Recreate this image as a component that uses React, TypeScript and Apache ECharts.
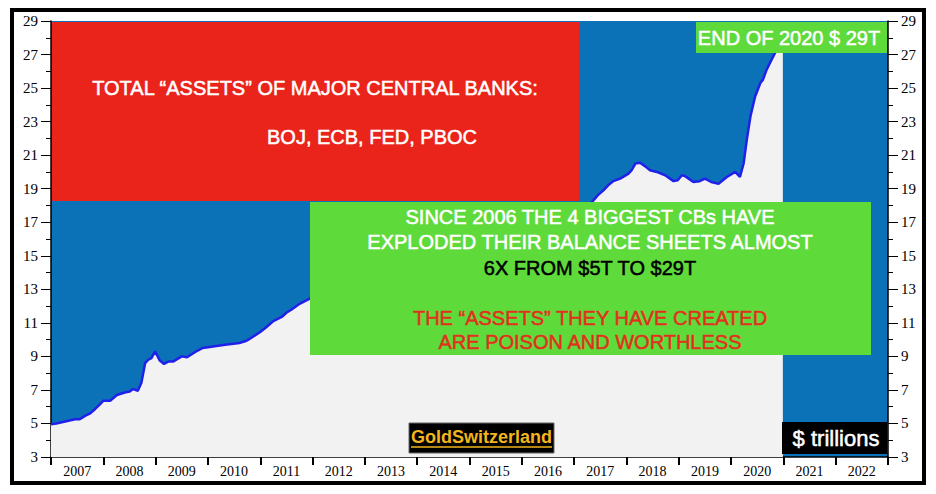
import React, { useEffect, useRef } from 'react';
import * as echarts from 'echarts';

// X axis categories (one band per year)
const yearLabels = ['2007', '2008', '2009', '2010', '2011', '2012', '2013', '2014', '2015', '2016', '2017', '2018', '2019', '2020', '2021', '2022'];

// Y axis range ($ trillions)
const yMin = 3;
const yMax = 29;
const yStep = 2;

// Time (decimal year) and total assets ($ trillions)
const dates = [
  2007.0, 2007.1, 2007.25, 2007.46, 2007.55, 2007.65, 2007.75, 2007.84, 2007.92,
  2008.0, 2008.13, 2008.26, 2008.41, 2008.5, 2008.57, 2008.66, 2008.73, 2008.8, 2008.86, 2008.92, 2008.99,
  2009.08, 2009.16, 2009.25, 2009.34, 2009.5, 2009.6, 2009.75, 2009.9,
  2010.0, 2010.33, 2010.49, 2010.6, 2010.71, 2010.8, 2010.9,
  2011.0, 2011.12, 2011.25, 2011.41, 2011.5, 2011.6, 2011.76, 2011.92,
  2012.1, 2012.3, 2012.5, 2012.75, 2013.0, 2013.25, 2013.5, 2013.75,
  2014.0, 2014.25, 2014.5, 2014.75, 2015.0, 2015.25, 2015.5, 2015.75,
  2016.0, 2016.25, 2016.5, 2016.75, 2017.0, 2017.2, 2017.34,
  2017.45, 2017.56, 2017.65, 2017.75, 2017.88,
  2018.04, 2018.1, 2018.17, 2018.26, 2018.36, 2018.45, 2018.58, 2018.74, 2018.9, 2018.98,
  2019.06, 2019.12, 2019.28, 2019.4, 2019.5, 2019.62, 2019.76, 2019.92,
  2020.08, 2020.17, 2020.24, 2020.3, 2020.37, 2020.46, 2020.56, 2020.61, 2020.68, 2020.76, 2020.84, 2020.92, 2020.99,
];
const assets = [
  4.95, 5.0, 5.1, 5.25, 5.25, 5.45, 5.6, 5.85, 6.1,
  6.35, 6.35, 6.7, 6.85, 6.9, 7.05, 6.95, 7.45, 8.6, 8.8, 8.9, 9.3,
  8.75, 8.55, 8.7, 8.7, 9.0, 8.95, 9.25, 9.5,
  9.55, 9.7, 9.75, 9.8, 9.9, 10.05, 10.25,
  10.45, 10.75, 11.1, 11.35, 11.6, 11.8, 12.15, 12.4,
  12.8, 13.1, 13.4, 14.0, 14.4, 14.8, 15.3, 15.7,
  16.0, 16.2, 16.3, 15.9, 15.6, 15.5, 15.8, 15.7,
  15.9, 16.5, 17.0, 17.1, 17.4, 17.9, 18.2,
  18.6, 18.9, 19.2, 19.45, 19.6,
  19.9, 20.1, 20.5, 20.55, 20.33, 20.1, 20.0, 19.8, 19.45, 19.5,
  19.8, 19.75, 19.4, 19.45, 19.6, 19.4, 19.3, 19.7,
  20.0, 19.7, 20.5, 21.9, 23.3, 24.5, 25.3, 25.5, 26.1, 26.6, 27.1, 27.6, 28.2,
];

// Annotation texts
const redTitle = 'TOTAL “ASSETS” OF MAJOR CENTRAL BANKS:';
const redSubtitle = 'BOJ, ECB, FED, PBOC';
const greenLinesWhite = ['SINCE 2006 THE 4 BIGGEST CBs HAVE', 'EXPLODED THEIR BALANCE SHEETS ALMOST'];
const greenLineBlack = '6X FROM $5T TO $29T';
const greenLinesRed = ['THE “ASSETS” THEY HAVE CREATED', 'ARE POISON AND WORTHLESS'];
const endLabel = 'END OF 2020 $ 29T';
const unitLabel = '$ trillions';
const brandLabel = 'GoldSwitzerland';

const BLUE_BG = '#0b72b8';
const RED = '#ea241b';
const GREEN = '#5fda3b';
const SANS = "'Liberation Sans', Arial, Helvetica, sans-serif";
const SERIF = "'Liberation Serif', 'Times New Roman', serif";

export default function App() {
  const ref = useRef<HTMLDivElement>(null);

  useEffect(() => {
    if (!ref.current) return;
    const chart = echarts.init(ref.current, undefined, { renderer: 'svg' });

    const seriesData = dates.map((d, i) => [d, assets[i]]);

    const yAxisCommon = {
      type: 'value',
      min: yMin,
      max: yMax,
      interval: yStep,
      splitLine: { show: false },
      axisLine: { show: true, lineStyle: { color: '#000', width: 1.5 } },
      axisTick: { show: true, inside: false, length: 10, lineStyle: { color: '#000', width: 1 } },
      minorTick: { show: true, splitNumber: 2, length: 5, lineStyle: { color: '#000', width: 1 } },
      minorSplitLine: { show: false },
      axisLabel: { color: '#000', fontFamily: SERIF, fontSize: 15, margin: 13 },
    };

    const label = (text: string, x: number, y: number, fill: string, size: number) => ({
      type: 'text',
      x,
      y,
      z: 101,
      style: {
        text,
        fill,
        stroke: fill,
        lineWidth: 0.5,
        font: `${size}px ${SANS}`,
        align: 'center',
        verticalAlign: 'middle',
      },
    });

    chart.setOption({
      animation: false,
      backgroundColor: '#ffffff',
      grid: {
        left: 51,
        right: 48,
        top: 21,
        bottom: 37,
        show: true,
        backgroundColor: BLUE_BG,
        borderWidth: 0,
        containLabel: false,
      },
      xAxis: [
        {
          type: 'category',
          data: yearLabels,
          boundaryGap: true,
          axisLine: { show: true, lineStyle: { color: '#000', width: 1.5 } },
          axisTick: { show: true, inside: false, length: 8, alignWithLabel: false, lineStyle: { color: '#000', width: 2 } },
          axisLabel: { color: '#000', fontFamily: SERIF, fontSize: 14, margin: 7, interval: 0 },
          splitLine: { show: false },
        },
        {
          type: 'value',
          min: 2007,
          max: 2023,
          show: false,
          splitLine: { show: false },
        },
      ],
      yAxis: [
        { ...yAxisCommon, position: 'left' },
        { ...yAxisCommon, position: 'right' },
      ],
      series: [
        {
          type: 'line',
          xAxisIndex: 1,
          yAxisIndex: 0,
          data: seriesData,
          showSymbol: false,
          symbol: 'none',
          smooth: false,
          lineStyle: { color: '#2020ea', width: 2.5 },
          areaStyle: { color: '#f2f2f2', opacity: 1, origin: 'start' },
          z: 3,
        },
      ],
      graphic: [
        // red box
        { type: 'rect', z: 100, shape: { x: 52, y: 22, width: 527, height: 179 }, style: { fill: RED } },
        label(redTitle, 315, 88, '#ffffff', 20),
        label(redSubtitle, 372, 137, '#ffffff', 20),
        // green box
        { type: 'rect', z: 100, shape: { x: 310, y: 202, width: 561, height: 153 }, style: { fill: GREEN } },
        label(greenLinesWhite[0], 590, 217, '#ffffff', 20),
        label(greenLinesWhite[1], 590, 242, '#ffffff', 20),
        label(greenLineBlack, 590, 268, '#000000', 20),
        label(greenLinesRed[0], 590, 318, '#e0301e', 20),
        label(greenLinesRed[1], 590, 342, '#e0301e', 20),
        // end of 2020 box
        { type: 'rect', z: 100, shape: { x: 696, y: 22, width: 191, height: 31 }, style: { fill: GREEN } },
        label(endLabel, 789, 38, '#ffffff', 20),
        // $ trillions box
        { type: 'rect', z: 100, shape: { x: 782, y: 422, width: 105, height: 32 }, style: { fill: '#000000' } },
        label(unitLabel, 836, 438, '#ffffff', 22),
        // GoldSwitzerland box
        { type: 'rect', z: 100, shape: { x: 409, y: 423, width: 145, height: 30 }, style: { fill: '#000000', stroke: '#666', lineWidth: 1 } },
        {
          type: 'text', x: 481.5, y: 437, z: 101,
          style: { text: brandLabel, fill: '#f2b51c', font: `bold 18px ${SANS}`, align: 'center', verticalAlign: 'middle' },
        },
        { type: 'line', z: 101, shape: { x1: 411, y1: 447, x2: 552, y2: 447 }, style: { stroke: '#f2b51c', lineWidth: 1.5 } },
        // outer frame
        { type: 'rect', z: 102, shape: { x: 12, y: 10, width: 912, height: 473 }, style: { fill: 'none', stroke: '#000', lineWidth: 4 } },
      ],
    });

    return () => chart.dispose();
  }, []);

  return <div ref={ref} style={{ position: 'absolute', left: 0, top: 0, width: 936, height: 494 }} />;
}
